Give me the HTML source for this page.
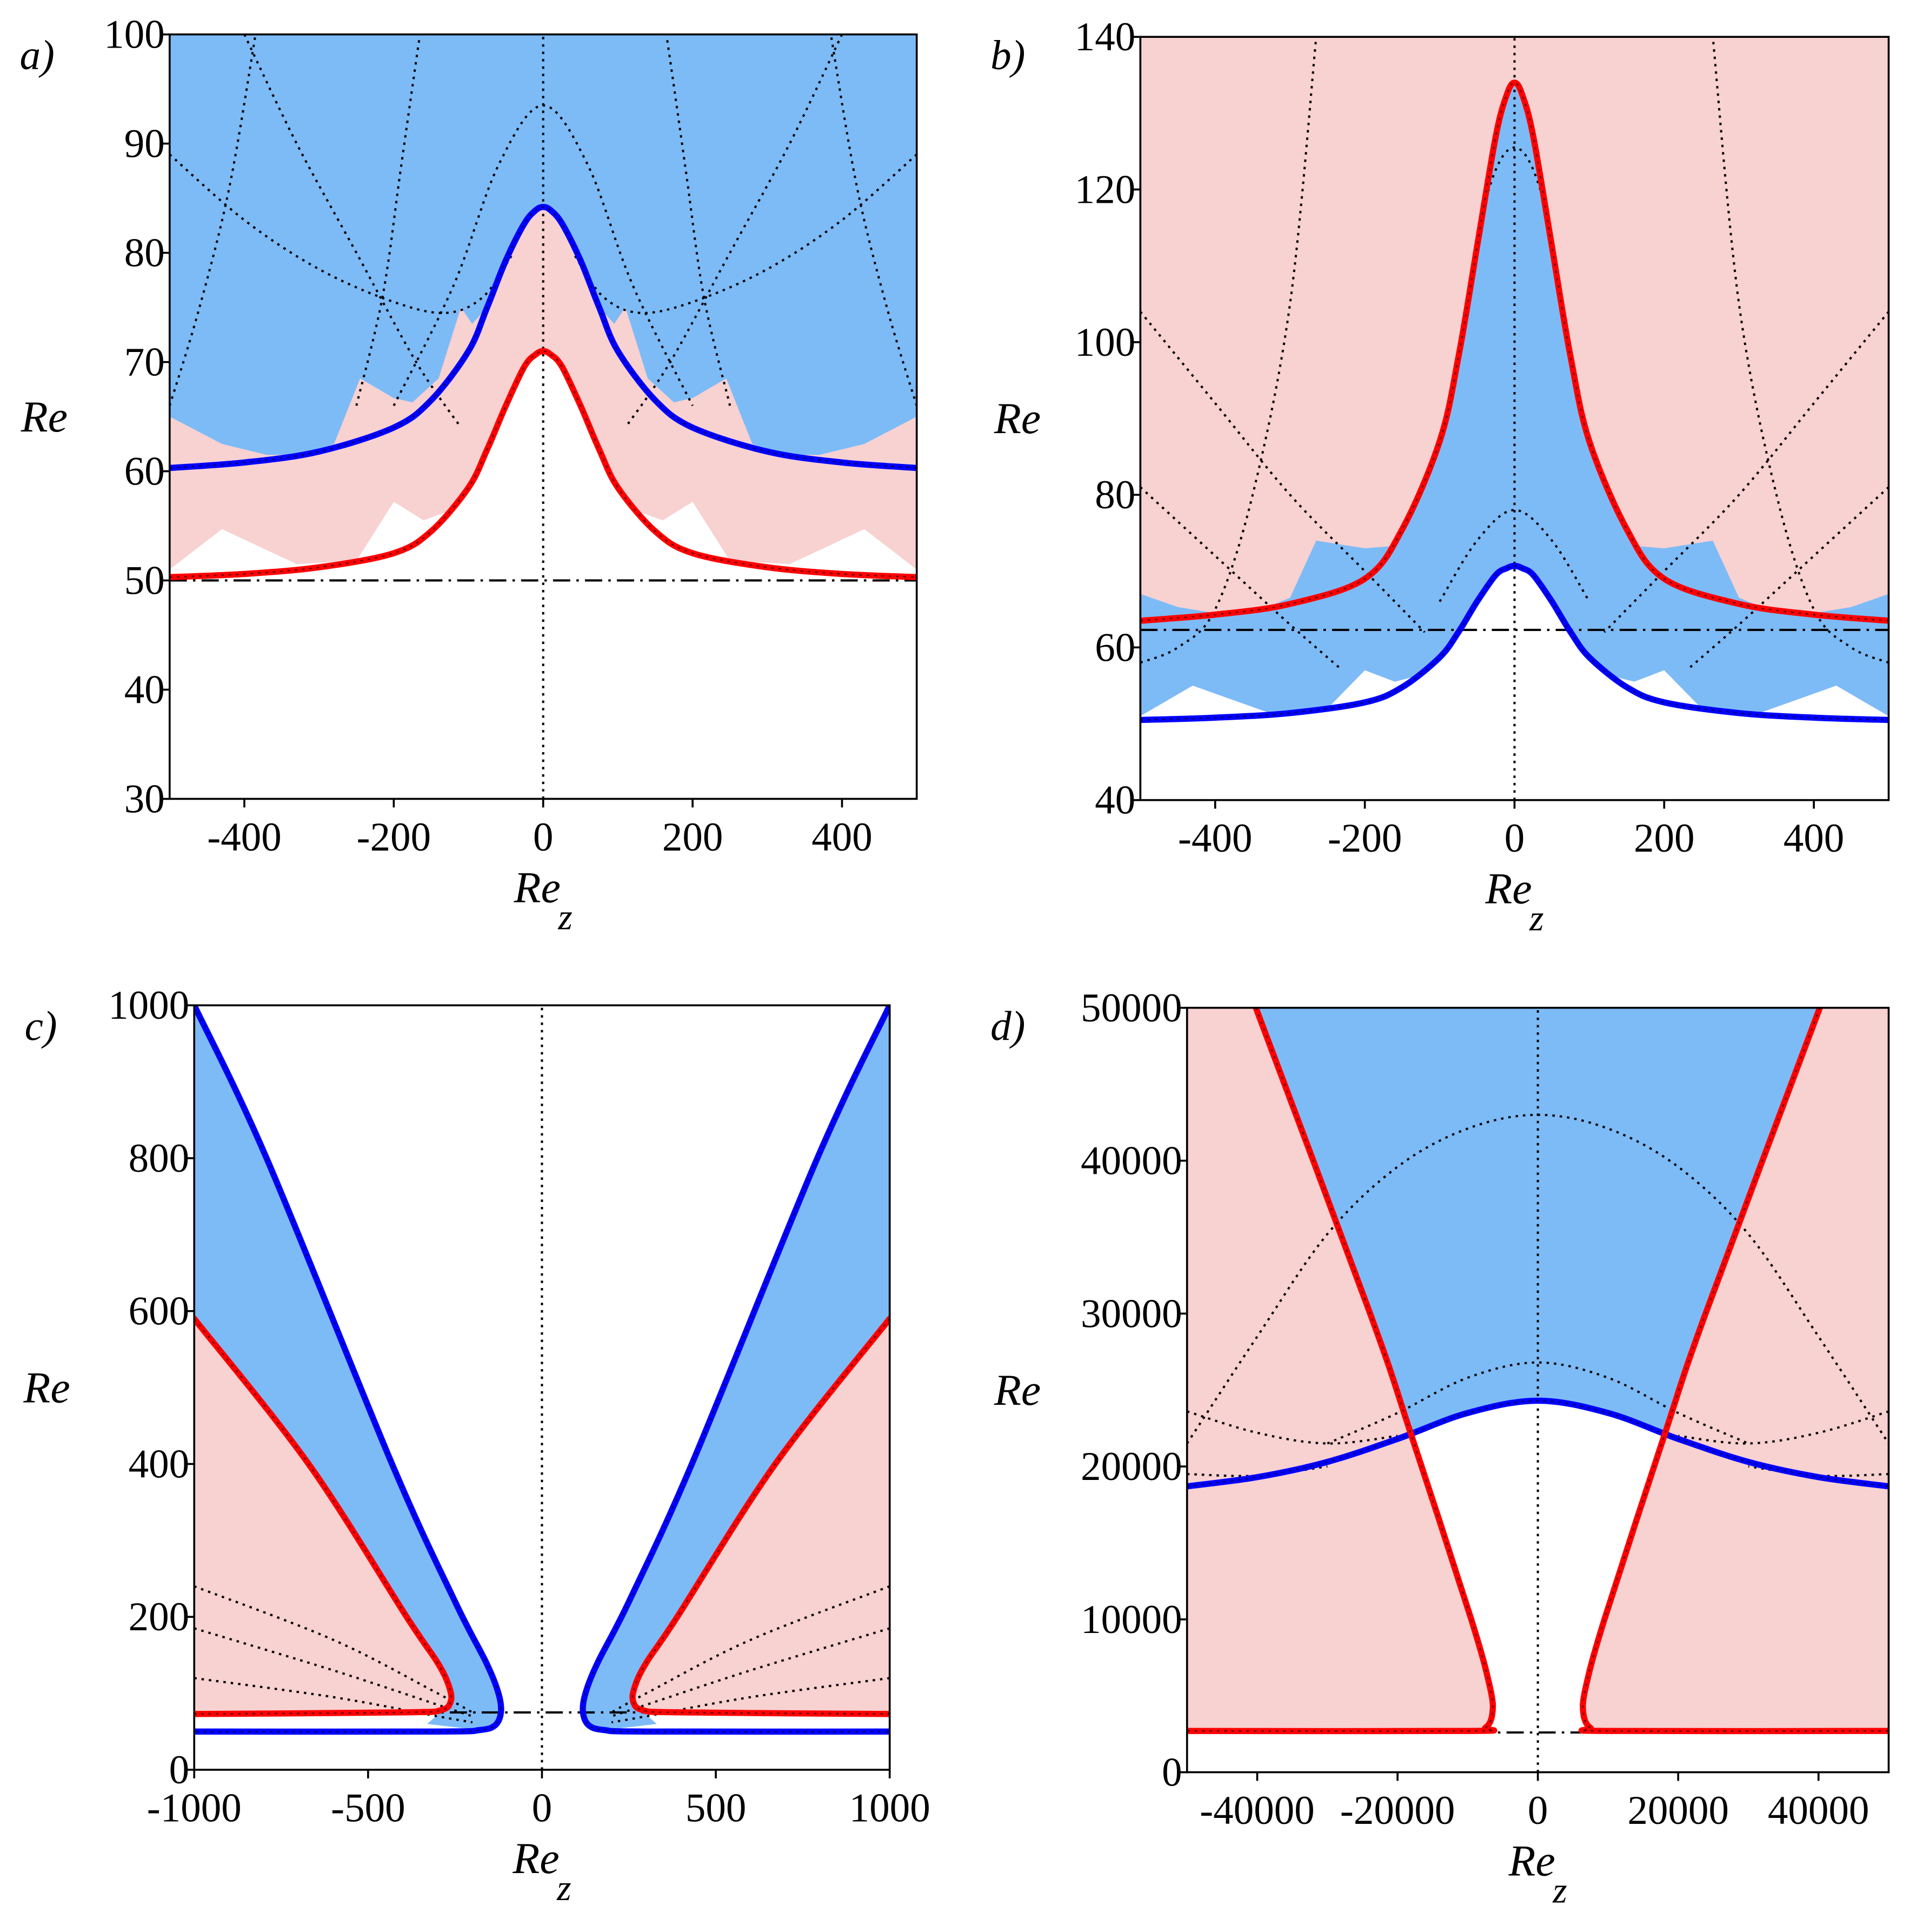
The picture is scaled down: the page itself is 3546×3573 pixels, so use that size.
<!DOCTYPE html>
<html><head><meta charset="utf-8"><style>
html,body{margin:0;padding:0;background:#fff}
svg{display:block}
text{font-family:"Liberation Serif",serif;fill:#000}
</style></head><body>
<svg id="fig" xmlns="http://www.w3.org/2000/svg" width="3546" height="3573" viewBox="0 0 1560 1572"></svg>
<script>
// ---------- DATA ----------
// Panel a
const aX = [-500,-400,-300,-200,-150,-100,-75,-50,-25,-10,0,10,25,50,75,100,150,200,300,400,500];
const aBlue = [60.3,60.8,61.8,64,66.5,71,75,79.3,82.7,83.9,84.2,83.9,82.7,79.3,75,71,66.5,64,61.8,60.8,60.3];
const aRed = [50.3,50.6,51.2,52.5,54.5,58.5,62,66,69.6,70.7,71,70.7,69.6,66,62,58.5,54.5,52.5,51.2,50.6,50.3];
const aBlueEdgeX = [-500,-430,-370,-320,-280,-245,-200,-175,-140,-110,-95,-75,-50,-25,0,25,50,75,95,110,140,175,200,245,280,320,370,430,500];
const aBlueEdgeY = [65,62.5,61.5,61.5,62.5,68.5,66.7,66.3,68.5,75,73.5,75,79.3,82.7,84.2,82.7,79.3,75,73.5,75,68.5,66.3,66.7,68.5,62.5,61.5,61.5,62.5,65];
const aPinkEdgeX = [-500,-430,-330,-250,-200,-160,-120,-100,-75,-50,-25,0,25,50,75,100,120,160,200,250,330,430,500];
const aPinkEdgeY = [51,54.7,51.5,51.8,57.2,55.5,56.5,58.5,62,66,69.6,71,69.6,66,62,58.5,56.5,55.5,57.2,51.8,51.5,54.7,51];
const aDots = [
  [[-500,89],[-400,83],[-300,78.5],[-200,75.5],[-130,74.5],[-80,76],[-40,80]],
  [[500,89],[400,83],[300,78.5],[200,75.5],[130,74.5],[80,76],[40,80]],
  [[-200,66],[-120,77],[-60,88],[0,93.5],[60,88],[120,77],[200,66]],
  [[-500,66],[-460,75],[-420,86],[-385,100]],
  [[500,66],[460,75],[420,86],[385,100]],
  [[-250,66],[-215,76],[-190,88],[-165,100]],
  [[250,66],[215,76],[190,88],[165,100]],
  [[-400,100],[-330,90],[-250,80],[-170,70],[-110,64]],
  [[400,100],[330,90],[250,80],[170,70],[110,64]]
];
// Panel b
const bX = [-500,-400,-300,-200,-150,-100,-75,-50,-25,-10,0,10,25,50,75,100,150,200,300,400,500];
const bRed = [63.5,64.3,65.7,69,75.5,87,98,112.5,127,132.5,134,132.5,127,112.5,98,87,75.5,69,65.7,64.3,63.5];
const bBlue = [50.5,50.8,51.4,52.8,54.8,58.7,62,66,69.5,70.4,70.7,70.4,69.5,66,62,58.7,54.8,52.8,51.4,50.8,50.5];
const bTopX = [-500,-450,-400,-330,-300,-265,-200,-160,-150,-100,-75,-50,-25,0,25,50,75,100,150,160,200,265,300,330,400,450,500];
const bTopY = [67,65.3,64.5,65.3,66.5,74,73,73.3,75.5,87,98,112.5,127,134,127,112.5,98,87,75.5,73.3,73,74,66.5,65.3,64.5,65.3,67];
const bBotX = [-500,-430,-330,-250,-200,-160,-120,-100,-75,-50,-25,0,25,50,75,100,120,160,200,250,330,430,500];
const bBotY = [51,55,51.5,52,57,55.5,56.5,58.7,62,66,69.5,70.7,69.5,66,62,58.7,56.5,55.5,57,52,51.5,55,51];
const bDots = [
  [[-500,104],[-400,92],[-300,80],[-200,70],[-120,62]],
  [[500,104],[400,92],[300,80],[200,70],[120,62]],
  [[-500,81],[-400,72],[-300,63],[-230,57]],
  [[500,81],[400,72],[300,63],[230,57]],
  [[-100,66],[-50,74],[0,78],[50,74],[100,66]],
  [[-80,95],[-40,118],[0,125.5],[40,118],[80,95]],
  [[-500,58],[-450,60],[-400,65],[-350,80],[-300,105],[-265,140]],
  [[500,58],[450,60],[400,65],[350,80],[300,105],[265,140]]
];
// Panel c
const cBlueLX = [-1000,-792,-431,-250,-160,-125,-118,-135,-180,-300,-1000];
const cBlueLY = [1000,800,400,220,140,100,75,58,52,50,50];
const cBlueRX = [1000,792,431,250,160,125,118,135,180,300,1000];
const cBlueRY = [1000,800,400,220,140,100,75,58,52,50,50];
const cRedLX = [-1000,-671,-389,-300,-268,-262,-290,-400,-1000];
const cRedLY = [590,400,200,140,110,90,78,75,73];
const cRedRX = [1000,671,389,300,268,262,290,400,1000];
const cRedRY = [590,400,200,140,110,90,78,75,73];
const cDots = [
  [[-1000,240],[-600,170],[-300,100],[-200,75]],
  [[-1000,185],[-600,130],[-300,85],[-200,70]],
  [[-1000,120],[-600,95],[-300,70],[-200,62]],
  [[1000,240],[600,170],[300,100],[200,75]],
  [[1000,185],[600,130],[300,85],[200,70]],
  [[1000,120],[600,95],[300,70],[200,62]]
];
// Panel d
const dRedLX = [-40200,-23900,-18000,-9500,-6800,-6500,-7500,-10000,-50000];
const dRedLY = [50000,30000,22000,10000,5500,3800,2900,2700,2700];
const dRedRX = [40200,23900,18000,9500,6800,6500,7500,10000,50000];
const dRedRY = [50000,30000,22000,10000,5500,3800,2900,2700,2700];
const dBlueX = [-50000,-40000,-30000,-20000,-10000,0,10000,20000,30000,40000,50000];
const dBlueY = [18700,19300,20300,21800,23500,24300,23500,21800,20300,19300,18700];
const dDots = [
  [[-50000,21500],[-40000,28500],[-30000,35200],[-20000,39600],[-10000,42100],[0,43000],[10000,42100],[20000,39600],[30000,35200],[40000,28500],[50000,21500]],
  [[-30000,21500],[-20000,23500],[-10000,25800],[0,26800],[10000,25800],[20000,23500],[30000,21500]],
  [[-50000,23600],[-40000,22200],[-30000,21500],[-20000,22000]],
  [[50000,23600],[40000,22200],[30000,21500],[20000,22000]],
  [[-50000,19500],[-40000,19400],[-30000,20000]],
  [[50000,19500],[40000,19400],[30000,20000]]
];

// ---------- DRAWING ----------
const NS = "http://www.w3.org/2000/svg";
const svg = document.getElementById('fig');
function mk(tag, attrs, parent){
  const e = document.createElementNS(NS, tag);
  for (const k in attrs) e.setAttribute(k, attrs[k]);
  (parent||svg).appendChild(e);
  return e;
}
function smoothD(p){
  // p: array of [x,y] pixels; Catmull-Rom to cubic bezier
  let d = 'M' + p[0][0].toFixed(1) + ',' + p[0][1].toFixed(1);
  for (let i = 0; i < p.length - 1; i++){
    const p0 = p[Math.max(i-1,0)], p1 = p[i], p2 = p[i+1], p3 = p[Math.min(i+2,p.length-1)];
    const c1 = [p1[0] + (p2[0]-p0[0])/6, p1[1] + (p2[1]-p0[1])/6];
    const c2 = [p2[0] - (p3[0]-p1[0])/6, p2[1] - (p3[1]-p1[1])/6];
    d += 'C' + c1.map(v=>v.toFixed(1)).join(',') + ' ' + c2.map(v=>v.toFixed(1)).join(',') + ' ' + p2.map(v=>v.toFixed(1)).join(',');
  }
  return d;
}
const BLUEF = "#7dbbf7", PINKF = "#f8d1d1";
function panel(P){
  const g = mk('g', {});
  
  
  const sx = v => P.x0 + (v - P.xmin) / (P.xmax - P.xmin) * (P.x1 - P.x0);
  const sy = v => P.y1 - (v - P.ymin) / (P.ymax - P.ymin) * (P.y1 - P.y0);
  const cid = 'clip-' + P.id;
  const cp = mk('clipPath', {id: cid}, g);
  mk('rect', {x: P.x0, y: P.y0, width: P.x1 - P.x0, height: P.y1 - P.y0}, cp);
  const plot = mk('g', {'clip-path': 'url(#' + cid + ')'}, g);
  const pts = (xs, ys) => xs.map((x, i) => [sx(x), sy(ys[i])]);
  P.draw({plot, sx, sy, pts});
  const fr = mk('rect', {x: P.x0, y: P.y0, width: P.x1 - P.x0, height: P.y1 - P.y0, fill: 'none', stroke: '#000', 'stroke-width': 1.6}, g);
  
  
  P.xt.forEach((t, i) => {
    const x = sx(t);
    mk('line', {x1: x, x2: x, y1: P.y1, y2: P.y1 + 7, stroke: '#000', 'stroke-width': 1.6}, g);
    const tx = mk('text', {x: x, y: P.y1 + 42, 'font-size': 33, 'text-anchor': 'middle'}, g);
    tx.textContent = P.xl[i];
    
    
  });
  P.yt.forEach((t, i) => {
    const y = sy(t);
    mk('line', {x1: P.x0 - 7, x2: P.x0, y1: y, y2: y, stroke: '#000', 'stroke-width': 1.6}, g);
    const tx = mk('text', {x: P.x0 - 4, y: y + 11, 'font-size': 33, 'text-anchor': 'end'}, g);
    tx.textContent = P.yl[i];
    
    
  });
  const yl = mk('text', {x: P.ylx, y: (P.y0 + P.y1) / 2 + 12, 'font-size': 36, 'font-style': 'italic', 'text-anchor': 'middle'}, g);
  yl.textContent = 'Re';
  
  
  const xl = mk('text', {x: (P.x0 + P.x1) / 2, y: P.y1 + 84, 'font-size': 36, 'font-style': 'italic', 'text-anchor': 'middle'}, g);
  xl.innerHTML = 'Re<tspan dx="-2" dy="22" font-size="30">z</tspan>';
  
  
  const pl = mk('text', {x: P.lx, y: P.ly, 'font-size': 34, 'font-style': 'italic'}, g);
  pl.textContent = P.id.slice(-1) + ')';
  
  
}
function curve(parent, p, color, w, name){
  const e = mk('path', {d: smoothD(p), fill: 'none', stroke: color, 'stroke-width': w, 'stroke-linejoin': 'round', 'stroke-linecap': 'round'}, parent);
  
  
  // thin black dotted overlay like reference
  const o = mk('path', {d: smoothD(p), fill: 'none', stroke: '#000', 'stroke-width': 1.2, 'stroke-dasharray': '2 4', opacity: 0.6}, parent);
  
  
  return e;
}
function poly(parent, p, color, name){
  const e = mk('polygon', {points: p.map(q => q[0].toFixed(1) + ',' + q[1].toFixed(1)).join(' '), fill: color}, parent);
  
  
  return e;
}
function dotted(parent, arr, sx, sy, name){
  arr.forEach(c => {
    const e = mk('path', {d: smoothD(c.map(q => [sx(q[0]), sy(q[1])])), fill: 'none', stroke: '#000', 'stroke-width': 1.8, 'stroke-dasharray': '2 4'}, parent);
    
    
  });
}
function vline(plot, x, y0, y1){ mk('line', {x1: x, x2: x, y1: y0, y2: y1, stroke: '#000', 'stroke-width': 1.8, 'stroke-dasharray': '2 4'}, plot); }
function hdash(plot, x0, x1, y){ mk('line', {x1: x0, x2: x1, y1: y, y2: y, stroke: '#000', 'stroke-width': 1.8, 'stroke-dasharray': '14 5 2 5'}, plot); }

// Panel a
panel({id: 'panel-a', x0: 138, x1: 746, y0: 28, y1: 650, xmin: -500, xmax: 500, ymin: 30, ymax: 100,
  xt: [-400,-200,0,200,400], xl: ['-400','-200','0','200','400'],
  yt: [30,40,50,60,70,80,90,100], yl: ['30','40','50','60','70','80','90','100'], ylx: 36, lx: 16, ly: 56,
  draw: ({plot, sx, sy, pts}) => {
    poly(plot, [[sx(-500), sy(100)]].concat(pts(aPinkEdgeX, aPinkEdgeY), [[sx(500), sy(100)]]), PINKF, 'pink-region');
    poly(plot, [[sx(-500), sy(100)]].concat(pts(aBlueEdgeX, aBlueEdgeY), [[sx(500), sy(100)]]), BLUEF, 'blue-region');
    dotted(plot, aDots, sx, sy, 'dotted-curve');
    vline(plot, sx(0), sy(30), sy(100));
    hdash(plot, sx(-500), sx(500), sy(50));
    curve(plot, pts(aX, aBlue), '#0000ff', 5, 'blue-curve');
    curve(plot, pts(aX, aRed), '#ff0000', 5, 'red-curve');
  }});

// Panel b
panel({id: 'panel-b', x0: 928, x1: 1537, y0: 30, y1: 651, xmin: -500, xmax: 500, ymin: 40, ymax: 140,
  xt: [-400,-200,0,200,400], xl: ['-400','-200','0','200','400'],
  yt: [40,60,80,100,120,140], yl: ['40','60','80','100','120','140'], ylx: 828, lx: 806, ly: 56,
  draw: ({plot, sx, sy, pts}) => {
    poly(plot, [[sx(-500), sy(140)], [sx(500), sy(140)], [sx(500), sy(40)], [sx(-500), sy(40)]], PINKF, 'pink-region');
    poly(plot, pts(bTopX, bTopY).concat(pts(bBotX, bBotY).reverse()), BLUEF, 'blue-region');
    poly(plot, pts(bBotX, bBotY).concat([[sx(500), sy(40)], [sx(-500), sy(40)]]), '#fff', 'white-region');
    dotted(plot, bDots, sx, sy, 'dotted-curve');
    vline(plot, sx(0), sy(40), sy(140));
    hdash(plot, sx(-500), sx(500), sy(62.3));
    curve(plot, pts(bX, bBlue), '#0000ff', 5, 'blue-curve');
    curve(plot, pts(bX, bRed), '#ff0000', 5, 'red-curve');
  }});

// Panel c
panel({id: 'panel-c', x0: 158, x1: 724, y0: 818, y1: 1440, xmin: -1000, xmax: 1000, ymin: 0, ymax: 1000,
  xt: [-1000,-500,0,500,1000], xl: ['-1000','-500','0','500','1000'],
  yt: [0,200,400,600,800,1000], yl: ['0','200','400','600','800','1000'], ylx: 38, lx: 20, ly: 846,
  draw: ({plot, sx, sy, pts}) => {
    [[cBlueLX, cBlueLY, cRedLX, cRedLY, -1000], [cBlueRX, cBlueRY, cRedRX, cRedRY, 1000]].forEach(([bx, by, rx, ry, e]) => {
      poly(plot, pts(bx.slice(0, 9), by.slice(0, 9)).concat([[sx(e*0.33), sy(60)], [sx(e*0.29), sy(76)]], pts(rx.slice(0, 6), ry.slice(0, 6)).reverse()), BLUEF, 'blue-region');
      poly(plot, pts(rx, ry), PINKF, 'pink-region');
    });
    dotted(plot, cDots, sx, sy, 'dotted-curve');
    vline(plot, sx(0), sy(0), sy(1000));
    hdash(plot, sx(-1000), sx(1000), sy(75));
    curve(plot, pts(cBlueLX, cBlueLY), '#0000ff', 5, 'blue-curve-left');
    curve(plot, pts(cBlueRX, cBlueRY), '#0000ff', 5, 'blue-curve-right');
    curve(plot, pts(cRedLX, cRedLY), '#ff0000', 5, 'red-curve-left');
    curve(plot, pts(cRedRX, cRedRY), '#ff0000', 5, 'red-curve-right');
  }});

// Panel d
panel({id: 'panel-d', x0: 966, x1: 1537, y0: 820, y1: 1442, xmin: -50000, xmax: 50000, ymin: 0, ymax: 50000,
  xt: [-40000,-20000,0,20000,40000], xl: ['-40000','-20000','0','20000','40000'],
  yt: [0,10000,20000,30000,40000,50000], yl: ['0','10000','20000','30000','40000','50000'], ylx: 828, lx: 806, ly: 846,
  draw: ({plot, sx, sy, pts}) => {
    poly(plot, [[sx(-50000), sy(50000)], [sx(50000), sy(50000)], [sx(50000), sy(2700)], [sx(-50000), sy(2700)]], PINKF, 'pink-region');
    poly(plot, pts(dRedLX, dRedLY).concat(pts(dRedRX, dRedRY).reverse()), '#fff', 'white-region');
    poly(plot, [[sx(-50000), sy(2700)], [sx(50000), sy(2700)], [sx(50000), sy(0)], [sx(-50000), sy(0)]], '#fff', 'white-bottom');
    poly(plot, pts(dRedLX.slice(0, 3), dRedLY.slice(0, 3)).concat(pts(dBlueX.slice(3, 8), dBlueY.slice(3, 8)), pts(dRedRX.slice(0, 3), dRedRY.slice(0, 3)).reverse()), BLUEF, 'blue-region');
    dotted(plot, dDots, sx, sy, 'dotted-curve');
    vline(plot, sx(0), sy(0), sy(50000));
    hdash(plot, sx(-50000), sx(50000), sy(2600));
    curve(plot, pts(dBlueX, dBlueY), '#0000ff', 5, 'blue-curve');
    curve(plot, pts(dRedLX, dRedLY), '#ff0000', 5, 'red-curve-left');
    curve(plot, pts(dRedRX, dRedRY), '#ff0000', 5, 'red-curve-right');
  }});
</script>
</body></html>
